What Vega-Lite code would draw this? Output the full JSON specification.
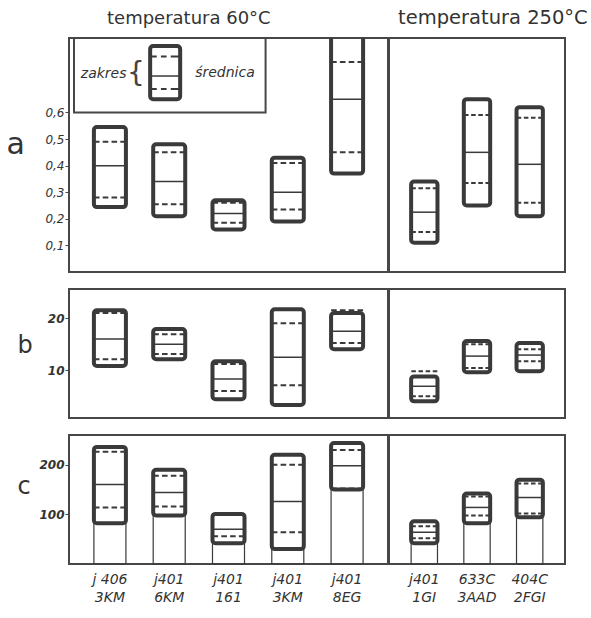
{
  "$schema": "https://vega.github.io/schema/vega-lite/v6.json",
  "background": "white",
  "padding": {"left": 5, "top": 6, "right": 2, "bottom": 2},
  "config": {
    "view": {"stroke": "#474747", "strokeWidth": 2},
    "font": "DejaVu Sans",
    "axis": {"labelColor": "#333", "titleColor": "#333", "tickColor": "#474747", "domain": false, "grid": false}
  },
  "datasets": {
    "boxes": [
      {"panel": "a", "temp": "60", "sample": "j 406|3KM", "min": 0.244, "max": 0.545, "lo": 0.28, "mean": 0.40, "hi": 0.49},
      {"panel": "a", "temp": "60", "sample": "j401|6KM", "min": 0.21, "max": 0.48, "lo": 0.255, "mean": 0.34, "hi": 0.45},
      {"panel": "a", "temp": "60", "sample": "j401|161", "min": 0.16, "max": 0.27, "lo": 0.185, "mean": 0.22, "hi": 0.26},
      {"panel": "a", "temp": "60", "sample": "j401|3KM", "min": 0.19, "max": 0.43, "lo": 0.235, "mean": 0.30, "hi": 0.41},
      {"panel": "a", "temp": "60", "sample": "j401|8EG", "min": 0.37, "max": 0.9, "lo": 0.45, "mean": 0.65, "hi": 0.79},
      {"panel": "a", "temp": "250", "sample": "j401|1GI", "min": 0.11, "max": 0.34, "lo": 0.15, "mean": 0.225, "hi": 0.315},
      {"panel": "a", "temp": "250", "sample": "633C|3AAD", "min": 0.25, "max": 0.65, "lo": 0.335, "mean": 0.45, "hi": 0.59},
      {"panel": "a", "temp": "250", "sample": "404C|2FGI", "min": 0.21, "max": 0.62, "lo": 0.26, "mean": 0.405, "hi": 0.58},
      {"panel": "b", "temp": "60", "sample": "j 406|3KM", "min": 10.8, "max": 21.5, "lo": 12.1, "mean": 16, "hi": 21},
      {"panel": "b", "temp": "60", "sample": "j401|6KM", "min": 12.1, "max": 17.9, "lo": 13.1, "mean": 15, "hi": 16.9},
      {"panel": "b", "temp": "60", "sample": "j401|161", "min": 4.4, "max": 11.7, "lo": 6, "mean": 8.3, "hi": 11.2},
      {"panel": "b", "temp": "60", "sample": "j401|3KM", "min": 3.3, "max": 21.7, "lo": 7.1, "mean": 12.5, "hi": 19},
      {"panel": "b", "temp": "60", "sample": "j401|8EG", "min": 14, "max": 21, "lo": 15.2, "mean": 17.5, "hi": 21.5},
      {"panel": "b", "temp": "250", "sample": "j401|1GI", "min": 4, "max": 8.8, "lo": 5, "mean": 6.9, "hi": 9.8},
      {"panel": "b", "temp": "250", "sample": "633C|3AAD", "min": 9.6, "max": 15.6, "lo": 10.4, "mean": 12.7, "hi": 15},
      {"panel": "b", "temp": "250", "sample": "404C|2FGI", "min": 9.8, "max": 15.2, "lo": 11.7, "mean": 12.9, "hi": 14},
      {"panel": "c", "temp": "60", "sample": "j 406|3KM", "min": 82, "max": 236, "lo": 114, "mean": 160, "hi": 226},
      {"panel": "c", "temp": "60", "sample": "j401|6KM", "min": 98, "max": 190, "lo": 116, "mean": 144, "hi": 178},
      {"panel": "c", "temp": "60", "sample": "j401|161", "min": 42, "max": 101, "lo": 56, "mean": 70, "hi": 100},
      {"panel": "c", "temp": "60", "sample": "j401|3KM", "min": 30, "max": 220, "lo": 64, "mean": 126, "hi": 200},
      {"panel": "c", "temp": "60", "sample": "j401|8EG", "min": 150, "max": 244, "lo": 152, "mean": 198, "hi": 230},
      {"panel": "c", "temp": "250", "sample": "j401|1GI", "min": 42, "max": 86, "lo": 52, "mean": 64, "hi": 76},
      {"panel": "c", "temp": "250", "sample": "633C|3AAD", "min": 82, "max": 142, "lo": 98, "mean": 114, "hi": 136},
      {"panel": "c", "temp": "250", "sample": "404C|2FGI", "min": 94, "max": 170, "lo": 102, "mean": 134, "hi": 162}
    ],
    "legendFrame": [{"x0": 0, "x1": 0.62, "y0": 0.6, "y1": 0.88}],
    "legendBox": [{"lx": 0.295, "min": 0.65, "max": 0.85, "lo": 0.688, "mean": 0.737, "hi": 0.81}],
    "legendText": [
      {"lx": 0.022, "ly": 0.745, "label": "zakres"},
      {"lx": 0.392, "ly": 0.75, "label": "średnica"}
    ],
    "legendBrace": [{"lx": 0.2, "ly": 0.745, "label": "{"}]
  },
  "align": "each",
  "columns": 2,
  "spacing": {"row": 15, "column": -2},
  "concat": [
    {
      "width": 319, "height": 234,
      "title": {"text": "temperatura 60°C", "anchor": "start", "frame": "group", "dx": 38, "fontSize": 18, "fontWeight": "normal", "baseline": "alphabetic", "offset": -5, "color": "#333"},
      "layer": [
        {
          "data": {"name": "boxes"},
          "transform": [{"filter": "datum.panel === 'a' && datum.temp === '60'"}],
          "encoding": {"x": {"field": "sample", "type": "nominal", "sort": null, "scale": {"type": "band", "paddingInner": 0.46, "paddingOuter": 0.42}, "axis": null}},
          "layer": [
            {"mark": {"type": "bar", "filled": false, "stroke": "#3a3a3a", "strokeWidth": 4, "cornerRadius": 3, "clip": true},
             "encoding": {"y": {"field": "max", "type": "quantitative", "scale": {"domain": [0, 0.88], "nice": false, "zero": false},
               "axis": {"values": [0.1, 0.2, 0.3, 0.4, 0.5, 0.6], "labelExpr": "replace(format(datum.value, '.1f'), '.', ',')", "labelFontSize": 12, "labelFontStyle": "italic", "labelPadding": 1, "tickSize": 4,
                 "title": "a", "titleAngle": 0, "titleAlign": "left", "titleBaseline": "middle", "titleX": -63, "titleY": 106, "titleFontSize": 30, "titleFontWeight": "normal"}},
               "y2": {"field": "min"}}},
            {"mark": {"type": "point", "shape": "M-1,0L-0.65,0M-0.45,0L-0.1,0M0.1,0L0.45,0M0.65,0L1,0", "filled": false, "stroke": "#3a3a3a", "strokeWidth": 2, "size": 1024, "opacity": 1},
             "encoding": {"y": {"field": "hi", "type": "quantitative"}}},
            {"mark": {"type": "point", "shape": "M-1,0L-0.65,0M-0.45,0L-0.1,0M0.1,0L0.45,0M0.65,0L1,0", "filled": false, "stroke": "#3a3a3a", "strokeWidth": 2, "size": 1024, "opacity": 1},
             "encoding": {"y": {"field": "lo", "type": "quantitative"}}},
            {"mark": {"type": "point", "shape": "M-1,0L1,0", "filled": false, "stroke": "#3a3a3a", "strokeWidth": 1.5, "size": 1024, "opacity": 1},
             "encoding": {"y": {"field": "mean", "type": "quantitative"}}}
          ]
        },
        {
          "layer": [
            {"data": {"name": "legendFrame"},
             "mark": {"type": "rect", "filled": false, "stroke": "#474747", "strokeWidth": 2},
             "encoding": {"x": {"field": "x0", "type": "quantitative", "scale": {"domain": [0, 1], "nice": false, "zero": false}, "axis": null},
               "x2": {"field": "x1"}, "y": {"field": "y0", "type": "quantitative"}, "y2": {"field": "y1"}}},
            {"data": {"name": "legendBox"},
             "mark": {"type": "bar", "filled": false, "stroke": "#3a3a3a", "strokeWidth": 4, "cornerRadius": 3, "size": 30},
             "encoding": {"x": {"field": "lx", "type": "quantitative", "axis": null}, "y": {"field": "max", "type": "quantitative"}, "y2": {"field": "min"}}},
            {"data": {"name": "legendBox"},
             "mark": {"type": "point", "shape": "M-1,0L-0.6,0M-0.3,0L0.1,0M0.4,0L1,0", "filled": false, "stroke": "#3a3a3a", "strokeWidth": 2, "size": 784, "opacity": 1},
             "encoding": {"x": {"field": "lx", "type": "quantitative", "axis": null}, "y": {"field": "hi", "type": "quantitative"}}},
            {"data": {"name": "legendBox"},
             "mark": {"type": "point", "shape": "M-1,0L-0.6,0M-0.3,0L0.1,0M0.4,0L1,0", "filled": false, "stroke": "#3a3a3a", "strokeWidth": 2, "size": 784, "opacity": 1},
             "encoding": {"x": {"field": "lx", "type": "quantitative", "axis": null}, "y": {"field": "lo", "type": "quantitative"}}},
            {"data": {"name": "legendBox"},
             "mark": {"type": "point", "shape": "M-1,0L1,0", "filled": false, "stroke": "#3a3a3a", "strokeWidth": 1.5, "size": 784, "opacity": 1},
             "encoding": {"x": {"field": "lx", "type": "quantitative", "axis": null}, "y": {"field": "mean", "type": "quantitative"}}},
            {"data": {"name": "legendText"},
             "mark": {"type": "text", "align": "left", "baseline": "middle", "fontSize": 14, "fontStyle": "italic", "color": "#333"},
             "encoding": {"x": {"field": "lx", "type": "quantitative", "axis": null}, "y": {"field": "ly", "type": "quantitative"}, "text": {"field": "label"}}},
            {"data": {"name": "legendBrace"},
             "mark": {"type": "text", "align": "center", "baseline": "middle", "fontSize": 28, "fontWeight": "normal", "color": "#444"},
             "encoding": {"x": {"field": "lx", "type": "quantitative", "axis": null}, "y": {"field": "ly", "type": "quantitative"}, "text": {"field": "label"}}}
          ]
        }
      ],
      "resolve": {"scale": {"x": "independent"}}
    },
    {
      "width": 176, "height": 234,
      "title": {"text": "temperatura 250°C", "anchor": "start", "frame": "group", "dx": 9, "fontSize": 19.5, "fontWeight": "normal", "baseline": "alphabetic", "offset": -5, "color": "#333"},
      "data": {"name": "boxes"},
      "transform": [{"filter": "datum.panel === 'a' && datum.temp === '250'"}],
      "encoding": {"x": {"field": "sample", "type": "nominal", "sort": null, "scale": {"type": "band", "paddingInner": 0.5, "paddingOuter": 0.42}, "axis": null}},
      "layer": [
        {"mark": {"type": "bar", "filled": false, "stroke": "#3a3a3a", "strokeWidth": 4, "cornerRadius": 3},
         "encoding": {"y": {"field": "max", "type": "quantitative", "scale": {"domain": [0, 0.88], "nice": false, "zero": false}, "axis": null}, "y2": {"field": "min"}}},
        {"mark": {"type": "point", "shape": "M-1,0L-0.65,0M-0.45,0L-0.1,0M0.1,0L0.45,0M0.65,0L1,0", "filled": false, "stroke": "#3a3a3a", "strokeWidth": 2, "size": 676, "opacity": 1},
         "encoding": {"y": {"field": "hi", "type": "quantitative"}}},
        {"mark": {"type": "point", "shape": "M-1,0L-0.65,0M-0.45,0L-0.1,0M0.1,0L0.45,0M0.65,0L1,0", "filled": false, "stroke": "#3a3a3a", "strokeWidth": 2, "size": 676, "opacity": 1},
         "encoding": {"y": {"field": "lo", "type": "quantitative"}}},
        {"mark": {"type": "point", "shape": "M-1,0L1,0", "filled": false, "stroke": "#3a3a3a", "strokeWidth": 1.5, "size": 676, "opacity": 1},
         "encoding": {"y": {"field": "mean", "type": "quantitative"}}}
      ]
    },
    {
      "width": 319, "height": 129,
      "data": {"name": "boxes"},
      "transform": [{"filter": "datum.panel === 'b' && datum.temp === '60'"}],
      "encoding": {"x": {"field": "sample", "type": "nominal", "sort": null, "scale": {"type": "band", "paddingInner": 0.46, "paddingOuter": 0.42}, "axis": null}},
      "layer": [
        {"mark": {"type": "bar", "filled": false, "stroke": "#3a3a3a", "strokeWidth": 4, "cornerRadius": 3},
         "encoding": {"y": {"field": "max", "type": "quantitative", "scale": {"domain": [0.8, 25.6], "nice": false, "zero": false},
           "axis": {"values": [10, 20], "labelFontSize": 12, "labelFontStyle": "italic", "labelFontWeight": "bold", "labelPadding": 1, "tickSize": 4,
             "title": "b", "titleAngle": 0, "titleAlign": "left", "titleBaseline": "middle", "titleX": -52, "titleY": 56, "titleFontSize": 24, "titleFontWeight": "normal"}},
           "y2": {"field": "min"}}},
        {"mark": {"type": "point", "shape": "M-1,0L-0.65,0M-0.45,0L-0.1,0M0.1,0L0.45,0M0.65,0L1,0", "filled": false, "stroke": "#3a3a3a", "strokeWidth": 2, "size": 1024, "opacity": 1},
         "encoding": {"y": {"field": "hi", "type": "quantitative"}}},
        {"mark": {"type": "point", "shape": "M-1,0L-0.65,0M-0.45,0L-0.1,0M0.1,0L0.45,0M0.65,0L1,0", "filled": false, "stroke": "#3a3a3a", "strokeWidth": 2, "size": 1024, "opacity": 1},
         "encoding": {"y": {"field": "lo", "type": "quantitative"}}},
        {"mark": {"type": "point", "shape": "M-1,0L1,0", "filled": false, "stroke": "#3a3a3a", "strokeWidth": 1.5, "size": 1024, "opacity": 1},
         "encoding": {"y": {"field": "mean", "type": "quantitative"}}}
      ]
    },
    {
      "width": 176, "height": 129,
      "data": {"name": "boxes"},
      "transform": [{"filter": "datum.panel === 'b' && datum.temp === '250'"}],
      "encoding": {"x": {"field": "sample", "type": "nominal", "sort": null, "scale": {"type": "band", "paddingInner": 0.5, "paddingOuter": 0.42}, "axis": null}},
      "layer": [
        {"mark": {"type": "bar", "filled": false, "stroke": "#3a3a3a", "strokeWidth": 4, "cornerRadius": 3},
         "encoding": {"y": {"field": "max", "type": "quantitative", "scale": {"domain": [0.8, 25.6], "nice": false, "zero": false}, "axis": null}, "y2": {"field": "min"}}},
        {"mark": {"type": "point", "shape": "M-1,0L-0.65,0M-0.45,0L-0.1,0M0.1,0L0.45,0M0.65,0L1,0", "filled": false, "stroke": "#3a3a3a", "strokeWidth": 2, "size": 676, "opacity": 1},
         "encoding": {"y": {"field": "hi", "type": "quantitative"}}},
        {"mark": {"type": "point", "shape": "M-1,0L-0.65,0M-0.45,0L-0.1,0M0.1,0L0.45,0M0.65,0L1,0", "filled": false, "stroke": "#3a3a3a", "strokeWidth": 2, "size": 676, "opacity": 1},
         "encoding": {"y": {"field": "lo", "type": "quantitative"}}},
        {"mark": {"type": "point", "shape": "M-1,0L1,0", "filled": false, "stroke": "#3a3a3a", "strokeWidth": 1.5, "size": 676, "opacity": 1},
         "encoding": {"y": {"field": "mean", "type": "quantitative"}}}
      ]
    },
    {
      "width": 319, "height": 129,
      "data": {"name": "boxes"},
      "transform": [{"filter": "datum.panel === 'c' && datum.temp === '60'"}],
      "encoding": {"x": {"field": "sample", "type": "nominal", "sort": null, "scale": {"type": "band", "paddingInner": 0.46, "paddingOuter": 0.42},
        "axis": {"title": null, "labelExpr": "split(datum.label, '|')", "labelAngle": 0, "labelFontSize": 14, "labelFontStyle": "italic", "labelLineHeight": 18, "labelPadding": 8, "ticks": false, "labelBaseline": "top"}}},
      "layer": [
        {"mark": {"type": "bar", "filled": false, "stroke": "#3a3a3a", "strokeWidth": 1.2},
         "encoding": {"y": {"field": "min", "type": "quantitative", "scale": {"domain": [0, 260], "nice": false, "zero": true},
           "axis": {"values": [100, 200], "labelFontSize": 12, "labelFontStyle": "italic", "labelFontWeight": "bold", "labelPadding": 1, "tickSize": 4,
             "title": "c", "titleAngle": 0, "titleAlign": "left", "titleBaseline": "middle", "titleX": -52, "titleY": 51, "titleFontSize": 24, "titleFontWeight": "normal"}}}},
        {"mark": {"type": "bar", "filled": false, "stroke": "#3a3a3a", "strokeWidth": 4, "cornerRadius": 3},
         "encoding": {"y": {"field": "max", "type": "quantitative"}, "y2": {"field": "min"}}},
        {"mark": {"type": "point", "shape": "M-1,0L-0.65,0M-0.45,0L-0.1,0M0.1,0L0.45,0M0.65,0L1,0", "filled": false, "stroke": "#3a3a3a", "strokeWidth": 2, "size": 1024, "opacity": 1},
         "encoding": {"y": {"field": "hi", "type": "quantitative"}}},
        {"mark": {"type": "point", "shape": "M-1,0L-0.65,0M-0.45,0L-0.1,0M0.1,0L0.45,0M0.65,0L1,0", "filled": false, "stroke": "#3a3a3a", "strokeWidth": 2, "size": 1024, "opacity": 1},
         "encoding": {"y": {"field": "lo", "type": "quantitative"}}},
        {"mark": {"type": "point", "shape": "M-1,0L1,0", "filled": false, "stroke": "#3a3a3a", "strokeWidth": 1.5, "size": 1024, "opacity": 1},
         "encoding": {"y": {"field": "mean", "type": "quantitative"}}}
      ]
    },
    {
      "width": 176, "height": 129,
      "data": {"name": "boxes"},
      "transform": [{"filter": "datum.panel === 'c' && datum.temp === '250'"}],
      "encoding": {"x": {"field": "sample", "type": "nominal", "sort": null, "scale": {"type": "band", "paddingInner": 0.5, "paddingOuter": 0.42},
        "axis": {"title": null, "labelExpr": "split(datum.label, '|')", "labelAngle": 0, "labelFontSize": 14, "labelFontStyle": "italic", "labelLineHeight": 18, "labelPadding": 8, "ticks": false, "labelBaseline": "top"}}},
      "layer": [
        {"mark": {"type": "bar", "filled": false, "stroke": "#3a3a3a", "strokeWidth": 1.2},
         "encoding": {"y": {"field": "min", "type": "quantitative", "scale": {"domain": [0, 260], "nice": false, "zero": true}, "axis": null}}},
        {"mark": {"type": "bar", "filled": false, "stroke": "#3a3a3a", "strokeWidth": 4, "cornerRadius": 3},
         "encoding": {"y": {"field": "max", "type": "quantitative"}, "y2": {"field": "min"}}},
        {"mark": {"type": "point", "shape": "M-1,0L-0.65,0M-0.45,0L-0.1,0M0.1,0L0.45,0M0.65,0L1,0", "filled": false, "stroke": "#3a3a3a", "strokeWidth": 2, "size": 676, "opacity": 1},
         "encoding": {"y": {"field": "hi", "type": "quantitative"}}},
        {"mark": {"type": "point", "shape": "M-1,0L-0.65,0M-0.45,0L-0.1,0M0.1,0L0.45,0M0.65,0L1,0", "filled": false, "stroke": "#3a3a3a", "strokeWidth": 2, "size": 676, "opacity": 1},
         "encoding": {"y": {"field": "lo", "type": "quantitative"}}},
        {"mark": {"type": "point", "shape": "M-1,0L1,0", "filled": false, "stroke": "#3a3a3a", "strokeWidth": 1.5, "size": 676, "opacity": 1},
         "encoding": {"y": {"field": "mean", "type": "quantitative"}}}
      ]
    }
  ]
}
